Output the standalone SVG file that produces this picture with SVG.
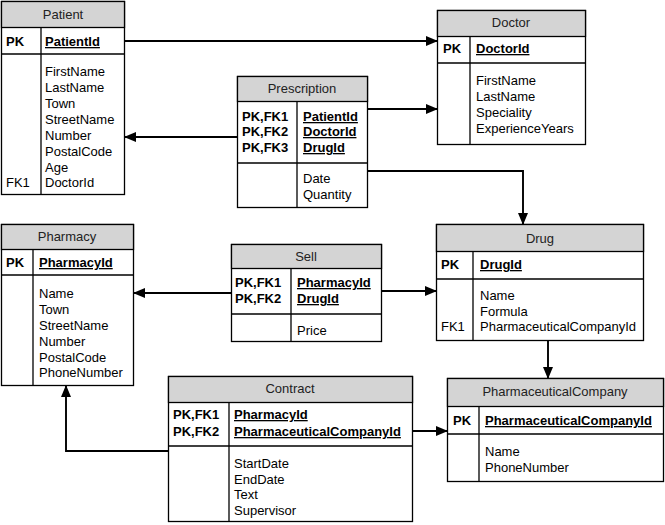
<svg xmlns="http://www.w3.org/2000/svg" width="665" height="525" viewBox="0 0 665 525">
<style>
.box{fill:#fff;stroke:#000;stroke-width:1.3}
.hdr{fill:#d4d4d4;stroke:#000;stroke-width:1.3}
.ln{stroke:#000;stroke-width:1.3;fill:none}
text{font-family:"Liberation Sans",Arial,sans-serif;font-size:13px;fill:#000}
.t{text-anchor:middle;fill:#222}
.b{font-weight:bold}
.u{font-weight:bold;text-decoration:underline}
.c{stroke:#000;stroke-width:1.9;fill:none}
</style>
<defs>
<marker id="ah" markerWidth="12" markerHeight="10" refX="11" refY="5" orient="auto" markerUnits="userSpaceOnUse">
<path d="M0,0 L12,5 L0,10 Z" fill="#000"/>
</marker>
</defs>
<rect width="665" height="525" fill="#fff"/>
<g id="connectors">
<path class="c" d="M125,41 H437" marker-end="url(#ah)"/>
<path class="c" d="M368,109 H437" marker-end="url(#ah)"/>
<path class="c" d="M237,137 H125" marker-end="url(#ah)"/>
<path class="c" d="M368,171 H523 V224" marker-end="url(#ah)"/>
<path class="c" d="M231,293 H134" marker-end="url(#ah)"/>
<path class="c" d="M382,291 H436" marker-end="url(#ah)"/>
<path class="c" d="M548,341 V378" marker-end="url(#ah)"/>
<path class="c" d="M413,431 H447" marker-end="url(#ah)"/>
<path class="c" d="M168,451 H66 V386" marker-end="url(#ah)"/>
</g>
<g id="Patient">
<rect class="box" x="1.5" y="1.5" width="123" height="193"/>
<rect class="hdr" x="1.5" y="1.5" width="123" height="26"/>
<line class="ln" x1="1.5" y1="54" x2="124.5" y2="54"/>
<line class="ln" x1="41" y1="27.5" x2="41" y2="194.5"/>
<text class="t" x="63" y="19">Patient</text>
<text class="b" x="6" y="46">PK</text>
<text class="u" x="45" y="46">PatientId</text>
<text x="45" y="76">FirstName</text>
<text x="45" y="92">LastName</text>
<text x="45" y="108">Town</text>
<text x="45" y="124">StreetName</text>
<text x="45" y="140">Number</text>
<text x="45" y="156">PostalCode</text>
<text x="45" y="172">Age</text>
<text x="6" y="187">FK1</text>
<text x="45" y="187">DoctorId</text>
</g>
<g id="Doctor">
<rect class="box" x="437.5" y="10.5" width="148" height="134"/>
<rect class="hdr" x="437.5" y="10.5" width="148" height="26"/>
<line class="ln" x1="437.5" y1="63" x2="585.5" y2="63"/>
<line class="ln" x1="470" y1="36.5" x2="470" y2="144.5"/>
<text class="t" x="511" y="27">Doctor</text>
<text class="b" x="443" y="53">PK</text>
<text class="u" x="476" y="53">DoctorId</text>
<text x="476" y="85">FirstName</text>
<text x="476" y="101">LastName</text>
<text x="476" y="117">Speciality</text>
<text x="476" y="133">ExperienceYears</text>
</g>
<g id="Prescription">
<rect class="box" x="237.5" y="76.5" width="130" height="131"/>
<rect class="hdr" x="237.5" y="76.5" width="130" height="25"/>
<line class="ln" x1="237.5" y1="163" x2="367.5" y2="163"/>
<line class="ln" x1="297" y1="101.5" x2="297" y2="207.5"/>
<text class="t" x="302" y="93">Prescription</text>
<text class="b" x="242" y="121">PK,FK1</text>
<text class="b" x="242" y="136">PK,FK2</text>
<text class="b" x="242" y="152">PK,FK3</text>
<text class="u" x="303" y="121">PatientId</text>
<text class="u" x="303" y="136">DoctorId</text>
<text class="u" x="303" y="152">DrugId</text>
<text x="303" y="183">Date</text>
<text x="303" y="199">Quantity</text>
</g>
<g id="Pharmacy">
<rect class="box" x="1.5" y="224.5" width="132" height="161"/>
<rect class="hdr" x="1.5" y="224.5" width="132" height="25"/>
<line class="ln" x1="1.5" y1="275" x2="133.5" y2="275"/>
<line class="ln" x1="33" y1="249.5" x2="33" y2="385.5"/>
<text class="t" x="67" y="241">Pharmacy</text>
<text class="b" x="6" y="267">PK</text>
<text class="u" x="39" y="267">PharmacyId</text>
<text x="39" y="298">Name</text>
<text x="39" y="314">Town</text>
<text x="39" y="330">StreetName</text>
<text x="39" y="346">Number</text>
<text x="39" y="362">PostalCode</text>
<text x="39" y="377">PhoneNumber</text>
</g>
<g id="Sell">
<rect class="box" x="231.5" y="244.5" width="150" height="97"/>
<rect class="hdr" x="231.5" y="244.5" width="150" height="24"/>
<line class="ln" x1="231.5" y1="314" x2="381.5" y2="314"/>
<line class="ln" x1="291" y1="268.5" x2="291" y2="341.5"/>
<text class="t" x="306" y="261">Sell</text>
<text class="b" x="235" y="287">PK,FK1</text>
<text class="b" x="235" y="303">PK,FK2</text>
<text class="u" x="297" y="287">PharmacyId</text>
<text class="u" x="297" y="303">DrugId</text>
<text x="297" y="335">Price</text>
</g>
<g id="Drug">
<rect class="box" x="436.5" y="224.5" width="207" height="116"/>
<rect class="hdr" x="436.5" y="224.5" width="207" height="27"/>
<line class="ln" x1="436.5" y1="279" x2="643.5" y2="279"/>
<line class="ln" x1="473" y1="251.5" x2="473" y2="340.5"/>
<text class="t" x="540" y="243">Drug</text>
<text class="b" x="441" y="269">PK</text>
<text class="u" x="480" y="269">DrugId</text>
<text x="480" y="300">Name</text>
<text x="480" y="316">Formula</text>
<text x="441" y="331">FK1</text>
<text x="480" y="331">PharmaceuticalCompanyId</text>
</g>
<g id="PharmaceuticalCompany">
<rect class="box" x="447.5" y="378.5" width="216" height="103"/>
<rect class="hdr" x="447.5" y="378.5" width="216" height="28"/>
<line class="ln" x1="447.5" y1="434" x2="663.5" y2="434"/>
<line class="ln" x1="479" y1="406.5" x2="479" y2="481.5"/>
<text class="t" x="555" y="396">PharmaceuticalCompany</text>
<text class="b" x="453" y="425">PK</text>
<text class="u" x="485" y="425">PharmaceuticalCompanyId</text>
<text x="485" y="456">Name</text>
<text x="485" y="472">PhoneNumber</text>
</g>
<g id="Contract">
<rect class="box" x="168.5" y="376.5" width="244" height="145"/>
<rect class="hdr" x="168.5" y="376.5" width="244" height="26"/>
<line class="ln" x1="168.5" y1="446" x2="412.5" y2="446"/>
<line class="ln" x1="229" y1="402.5" x2="229" y2="521.5"/>
<text class="t" x="290" y="393">Contract</text>
<text class="b" x="173" y="419">PK,FK1</text>
<text class="b" x="173" y="436">PK,FK2</text>
<text class="u" x="234" y="419">PharmacyId</text>
<text class="u" x="234" y="436">PharmaceuticalCompanyId</text>
<text x="234" y="468">StartDate</text>
<text x="234" y="484">EndDate</text>
<text x="234" y="499">Text</text>
<text x="234" y="515">Supervisor</text>
</g>
</svg>
